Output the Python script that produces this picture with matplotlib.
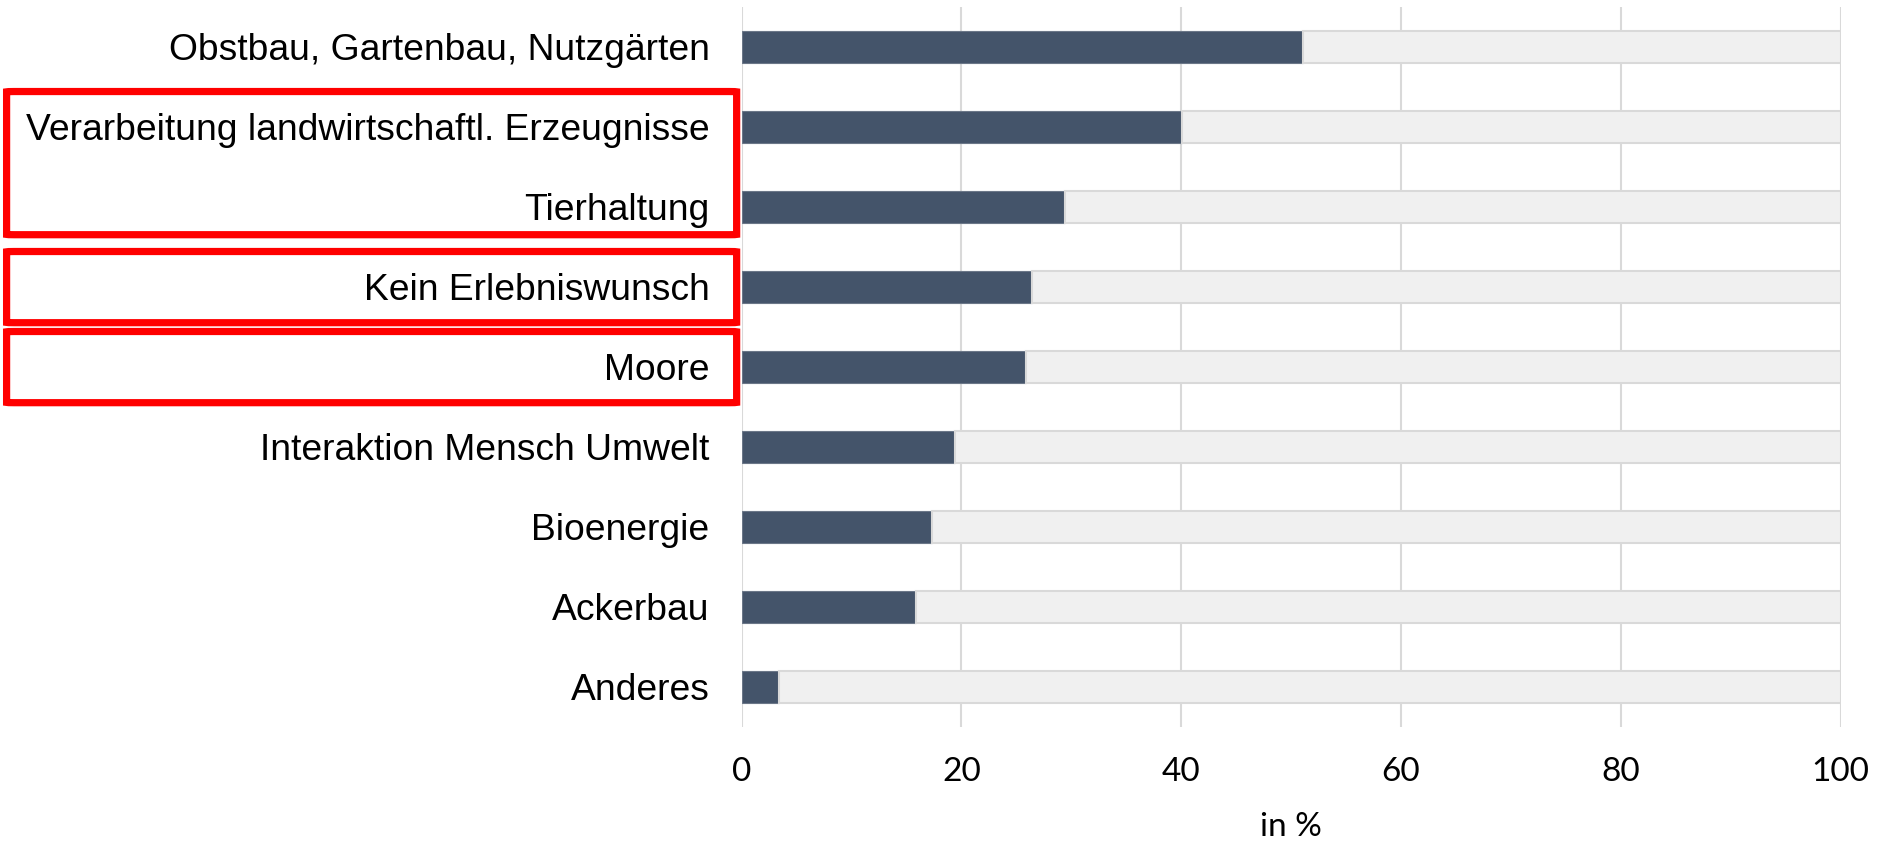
import matplotlib
matplotlib.use("Agg")
import matplotlib.pyplot as plt
import matplotlib.transforms as mtransforms
from matplotlib.patches import FancyBboxPatch

categories = [
    "Anderes",
    "Ackerbau",
    "Bioenergie",
    "Interaktion Mensch Umwelt",
    "Moore",
    "Kein Erlebniswunsch",
    "Tierhaltung",
    "Verarbeitung landwirtschaftl. Erzeugnisse",
    "Obstbau, Gartenbau, Nutzgärten",
]
values = [3.4, 15.9, 17.3, 19.4, 25.9, 26.4, 29.4, 40.1, 51.1]
x_ticks = [0, 20, 40, 60, 80, 100]

# highlighted label groups: (first category, last category)
highlights = [
    ("Verarbeitung landwirtschaftl. Erzeugnisse", "Tierhaltung"),
    ("Kein Erlebniswunsch", "Kein Erlebniswunsch"),
    ("Moore", "Moore"),
]

DARK = "#44546a"
LIGHT = "#f0f0f0"
GRID = "#d9d9d9"


def main():
    fig = plt.figure(figsize=(18.84, 8.42), dpi=100)
    ax = fig.add_axes([0.3936, 0.137, 0.5834, 0.855])

    pos = list(range(len(categories)))
    rest = [100 - v for v in values]
    ax.barh(pos, values, height=0.4, color=DARK, edgecolor="#6b7788",
            linewidth=0.8, zorder=3)
    ax.barh(pos, rest, left=values, height=0.4, color=LIGHT,
            edgecolor=GRID, linewidth=1.5, zorder=3)

    ax.set_xlim(0, 100)
    ax.set_ylim(-0.5, len(categories) - 0.5)
    ax.set_xticks(x_ticks)
    ax.set_xticklabels([str(t) for t in x_ticks], fontsize=24,
                       family="Lato")
    ax.set_yticks(pos)
    ax.set_yticklabels(categories, fontsize=26.8, family="Liberation Sans")
    ax.tick_params(axis="both", length=0)
    ax.tick_params(axis="y", pad=23)
    ax.tick_params(axis="x", pad=22)
    ax.grid(axis="x", color=GRID, linewidth=1.5, zorder=0)
    for s in ax.spines.values():
        s.set_visible(False)
    ax.set_xlabel("in %", fontsize=24, family="Lato", labelpad=18)

    # red frames around label groups
    trans = mtransforms.blended_transform_factory(fig.transFigure, ax.transData)
    for first, last in highlights:
        i, j = categories.index(first), categories.index(last)
        top = max(i, j) + 0.44
        bottom = min(i, j) - 0.45
        if i != j:
            bottom = min(i, j) - 0.35
        box = FancyBboxPatch((0.0035, bottom), 0.3875, top - bottom,
                             boxstyle="round,pad=0,rounding_size=0.004",
                             transform=trans, fill=False, edgecolor="#ff0000",
                             linewidth=5.2, clip_on=False, zorder=5)
        fig.add_artist(box)

    fig.savefig("out.png", dpi=100)


if __name__ == "__main__":
    main()
